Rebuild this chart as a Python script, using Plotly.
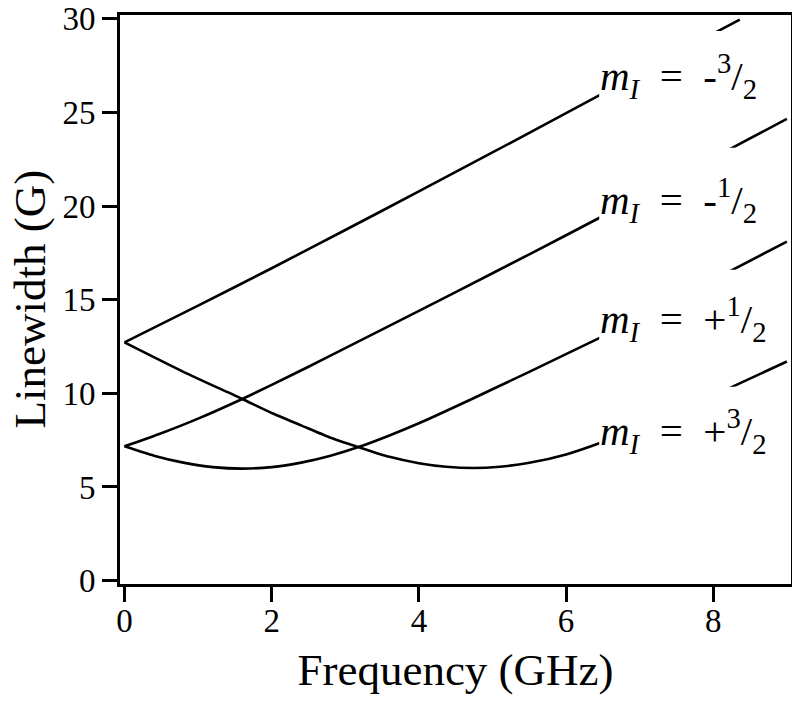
import plotly.graph_objects as go

# Frequency (GHz) and linewidth (G)
freq_m3n = [0, 1, 2, 3, 4, 5, 6, 7, 8, 8.36]
lw_m3n = [12.72, 14.68, 16.68, 18.72, 20.78, 22.86, 24.96, 27.07, 29.2, 29.95]

freq_m1n = [0, 0.5, 1, 1.6, 2, 2.5, 3, 4, 5, 6, 7, 8, 9]
lw_m1n = [7.17, 7.87, 8.65, 9.70, 10.45, 11.42, 12.41, 14.40, 16.41, 18.44, 20.50, 22.57, 24.65]

freq_m1p = [0, 0.4, 0.8, 1.2, 1.6, 2.0, 2.4, 2.8, 3.18, 3.6, 4, 4.72, 5.5, 6.45, 7, 8, 9]
lw_m1p = [7.17, 6.67, 6.30, 6.06, 5.98, 6.06, 6.30, 6.67, 7.13, 7.75, 8.40, 9.70, 11.15, 12.95, 14.02, 16.06, 18.1]

freq_m3p = [0, 0.8, 1.6, 2.0, 2.4, 2.8, 3.18, 3.6, 4, 4.37, 4.74, 5.1, 5.5, 6.0, 6.46, 7.2, 7.7, 8.27, 9]
lw_m3p = [12.72, 11.15, 9.70, 8.95, 8.29, 7.63, 7.13, 6.61, 6.27, 6.08, 6.01, 6.08, 6.29, 6.74, 7.35, 8.53, 9.35, 10.37, 11.7]

label_texts = [
    "<i>m</i><sub><i>I</i></sub>  =  -<sup>3</sup>/<sub>2</sub>",
    "<i>m</i><sub><i>I</i></sub>  =  -<sup>1</sup>/<sub>2</sub>",
    "<i>m</i><sub><i>I</i></sub>  =  +<sup>1</sup>/<sub>2</sub>",
    "<i>m</i><sub><i>I</i></sub>  =  +<sup>3</sup>/<sub>2</sub>",
]

x_ticks = [0, 2, 4, 6, 8]
y_ticks = [0, 5, 10, 15, 20, 25, 30]

FONT = "Liberation Serif, Times New Roman, serif"

fig = go.Figure()
for fx, fy in [(freq_m3n, lw_m3n), (freq_m1n, lw_m1n), (freq_m1p, lw_m1p), (freq_m3p, lw_m3p)]:
    fig.add_trace(go.Scatter(x=fx, y=fy, mode="lines",
                             line=dict(color="black", width=2.6, shape="spline", smoothing=0.6),
                             showlegend=False, hoverinfo="skip"))

# white boxes behind the labels (lines pass behind them)
box_x = (6.45, 8.66)
box_y = [(25.56, 29.35), (19.05, 23.11), (12.75, 16.6), (6.62, 10.35)]
label_y = [26.95, 20.33, 13.98, 8.01]
for (y0, y1), ty, txt in zip(box_y, label_y, label_texts):
    fig.add_shape(type="rect", xref="x", yref="y", x0=box_x[0], x1=box_x[1], y0=y0, y1=y1,
                  fillcolor="white", line=dict(width=0), layer="above")
    fig.add_annotation(x=6.43, y=ty, xref="x", yref="y", text=txt, showarrow=False,
                       xanchor="left", yanchor="middle",
                       font=dict(family=FONT, size=41, color="black"))

# y-axis title as a rotated annotation so it can sit closer to the edge
fig.add_annotation(x=-0.1356, y=0.5, xref="paper", yref="paper", text="Linewidth (G)",
                   textangle=-90, showarrow=False, xanchor="center", yanchor="middle",
                   font=dict(family=FONT, size=45, color="black"))

axis_common = dict(showline=True, linecolor="black", linewidth=3, mirror=True,
                   ticks="outside", ticklen=15, tickwidth=2.5, tickcolor="black",
                   showgrid=False, zeroline=False, automargin=False,
                   ticklabeloverflow="allow",
                   tickfont=dict(family=FONT, size=33, color="black"))

fig.update_xaxes(range=[-0.061, 9.056], tickvals=x_ticks, ticktext=[str(v) for v in x_ticks],
                 ticklabelstandoff=-10,
                 title=dict(text="Frequency (GHz)", font=dict(family=FONT, size=45, color="black"),
                            standoff=17),
                 **axis_common)
fig.update_yaxes(range=[-0.18, 30.2], tickvals=y_ticks, ticktext=[str(v) for v in y_ticks],
                 **axis_common)

# page body has an 8px margin, so the figure is sized to fit inside the window
fig.update_layout(width=784, height=687, margin=dict(l=112, r=1, t=7, b=111),
                  plot_bgcolor="white", paper_bgcolor="white")

fig.write_html("out.html")
